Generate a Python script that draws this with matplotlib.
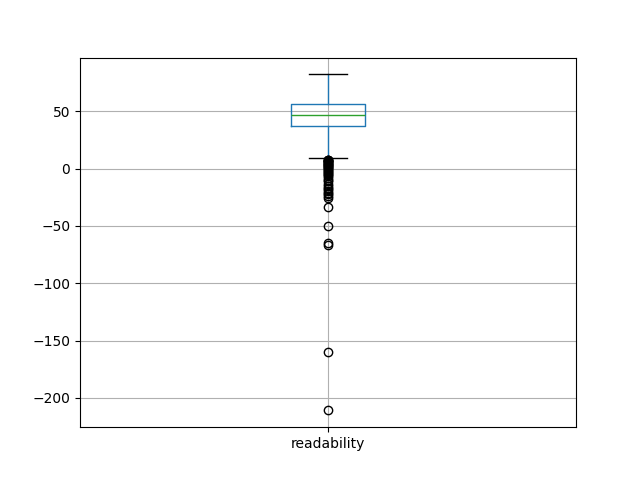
import matplotlib
matplotlib.use("Agg")
import matplotlib.pyplot as plt

label = "readability"
q1, med, q3 = 37.0, 46.6, 56.2
whislo, whishi = 9.1, 82.3
fliers = [8.0, 7.6, 7.2, 6.8, 6.4, 6.0, 5.5, 5.0, 4.5, 4.0, 3.5, 3.0, 2.4, 1.8, 1.2,
          0.5, -0.2, -1.0, -1.8, -2.6, -3.5, -4.5, -5.5, -6.5, -8.0, -9.5, -11.0,
          -13.0, -15.0, -16.5, -18.0, -19.5, -21.0, -22.5, -24.0, -25.5,
          -33.7, -50.0, -65.3, -66.3, -160.0, -211.0]

fig, ax = plt.subplots(figsize=(6.4, 4.8), dpi=100)
stats = [dict(label=label, med=med, q1=q1, q3=q3, whislo=whislo, whishi=whishi, fliers=fliers)]
ax.bxp(stats, positions=[1], widths=0.15,
       boxprops=dict(color="#1f77b4"),
       whiskerprops=dict(color="#1f77b4"),
       capprops=dict(color="k"),
       medianprops=dict(color="#2ca02c"),
       flierprops=dict(marker="o", markerfacecolor="none", markeredgecolor="k"))
ax.set_xlim(0.5, 1.5)
ax.grid(True)
ax.set_axisbelow(True)
fig.savefig("out.png")
